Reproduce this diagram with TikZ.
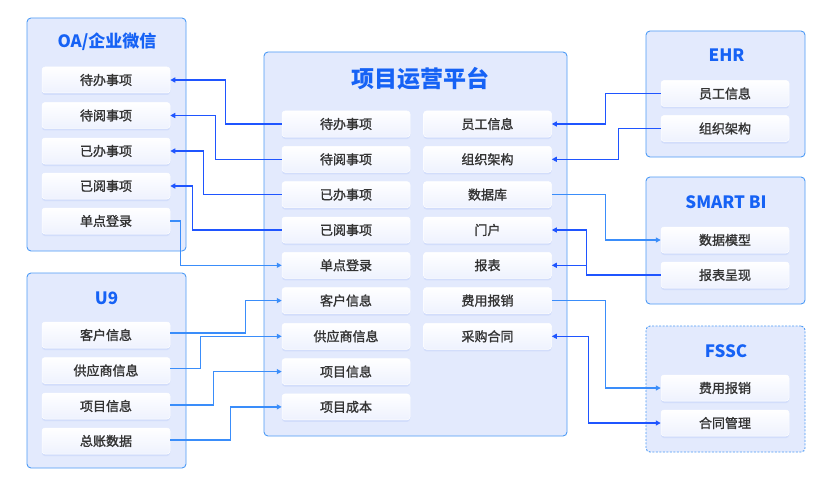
\documentclass[tikz,border=0pt]{standalone}
\usepackage{fontspec}
\setmainfont{Noto Sans CJK SC}
\newfontfamily\itemfont{Noto Sans CJK SC}[FakeBold=1.5]
\usetikzlibrary{arrows.meta,shadows}
\definecolor{boxfill}{HTML}{E3EAFD}
\definecolor{boxline}{HTML}{4D9BF6}
\definecolor{titleblue}{HTML}{1662F5}
\definecolor{itemtext}{HTML}{333333}
\definecolor{darkarr}{HTML}{1F55FF}
\definecolor{lightarr}{HTML}{3A8DFA}
\definecolor{itembot}{HTML}{EEF2FE}
\definecolor{shadowc}{HTML}{C7D5FA}
\tikzset{
  group/.style={draw=boxline, line width=0.9pt, fill=boxfill, rounded corners=4pt, inner sep=0pt},
  dgroup/.style={group, dash pattern=on 2pt off 1.5pt},
  item/.style={minimum width=128pt, minimum height=26pt, inner sep=0pt, rounded corners=3pt,
    top color=white, bottom color=itembot, draw=white, line width=0.5pt, text=itemtext,
    font=\itemfont\fontsize{13}{15}\selectfont,
    drop shadow={shadow xshift=0pt, shadow yshift=-2pt, fill=shadowc, opacity=0.6}},
  title/.style={text=titleblue, font=\bfseries\fontsize{17}{20}\selectfont},
  bigtitle/.style={text=titleblue, font=\bfseries\fontsize{23}{27}\selectfont},
  darr/.style={draw=darkarr, line width=1.2pt, -{Triangle[length=5pt,width=5pt]}},
  larr/.style={draw=lightarr, line width=1.2pt, -{Triangle[length=5pt,width=5pt]}},
  dblarr/.style={draw=darkarr, line width=1.2pt, {Triangle[length=5pt,width=5pt]}-{Triangle[length=5pt,width=5pt]}},
}
\begin{document}
\begin{tikzpicture}[x=1pt,y=-1pt]
\useasboundingbox[fill=white] (0,0) rectangle (832,492);

% groups
\node[group, minimum width=159pt, minimum height=233pt] (oa) at (106.5,134.5) {};
\node[group, minimum width=159pt, minimum height=195pt] (u9) at (106.5,370.5) {};
\node[group, minimum width=303pt, minimum height=384pt] (main) at (415.5,244) {};
\node[group, minimum width=159pt, minimum height=126pt] (ehr) at (725.5,94) {};
\node[group, minimum width=159pt, minimum height=127pt] (sbi) at (725.5,240.5) {};
\node[dgroup, minimum width=159pt, minimum height=126pt] (fssc) at (725.5,389) {};

% titles
\node[title] (toa) at (107,42) {OA/企业微信};
\node[title] (tu9) at (106.5,298) {U9};
\node[bigtitle] (tmain) at (420,79) {项目运营平台};
\node[title] (tehr) at (726.5,55) {EHR};
\node[title] (tsbi) at (726,202) {SMART BI};
\node[title] (tfssc) at (726,351) {FSSC};

% OA items
\node[item] (oa1) at (106,80) {待办事项};
\node[item] (oa2) at (106,115.5) {待阅事项};
\node[item] (oa3) at (106,151) {已办事项};
\node[item] (oa4) at (106,186) {已阅事项};
\node[item] (oa5) at (106,221) {单点登录};

% U9 items
\node[item] (u1) at (106,335) {客户信息};
\node[item] (u2) at (106,370.5) {供应商信息};
\node[item] (u3) at (106,406) {项目信息};
\node[item] (u4) at (106,441) {总账数据};

% main left items
\node[item] (m1) at (346,124) {待办事项};
\node[item] (m2) at (346,159.3) {待阅事项};
\node[item] (m3) at (346,194.6) {已办事项};
\node[item] (m4) at (346,230) {已阅事项};
\node[item] (m5) at (346,265.3) {单点登录};
\node[item] (m6) at (346,300.6) {客户信息};
\node[item] (m7) at (346,336.3) {供应商信息};
\node[item] (m8) at (346,371.6) {项目信息};
\node[item] (m9) at (346,406.9) {项目成本};

% main right items
\node[item] (r1) at (487.5,124) {员工信息};
\node[item] (r2) at (487.5,159.3) {组织架构};
\node[item] (r3) at (487.5,194.6) {数据库};
\node[item] (r4) at (487.5,230) {门户};
\node[item] (r5) at (487.5,265.3) {报表};
\node[item] (r6) at (487.5,300.6) {费用报销};
\node[item] (r7) at (487.5,336.3) {采购合同};

% EHR items
\node[item] (e1) at (725,93.5) {员工信息};
\node[item] (e2) at (725,128.5) {组织架构};
% SMART BI items
\node[item] (s1) at (725,240) {数据模型};
\node[item] (s2) at (725,275) {报表呈现};
% FSSC items
\node[item] (f1) at (725,388) {费用报销};
\node[item] (f2) at (725,423) {合同管理};

% connectors OA
\draw[darr] (m1.west) -- ++(-56,0) |- (oa1.east);
\draw[darr] (m2.west) -- ++(-66,0) |- (oa2.east);
\draw[darr] (m3.west) -- ++(-78,0) |- (oa3.east);
\draw[darr] (m4.west) -- ++(-89,0) |- (oa4.east);
\draw[larr] (oa5.east) -- ++(10,0) |- (m5.west);

% connectors U9
\draw[larr] ([yshift=2pt]u1.east) -- ++(75,0) |- (m6.west);
\draw[larr] ([yshift=2pt]u2.east) -- ++(30,0) |- (m7.west);
\draw[larr] ([yshift=1pt]u3.east) -- ++(43,0) |- (m8.west);
\draw[larr] ([yshift=1pt]u4.east) -- ++(60,0) |- (m9.west);

% connectors right
\draw[darr] (e1.west) -- ++(-55,0) |- (r1.east);
\draw[darr] (e2.west) -- ++(-42,0) |- (r2.east);
\draw[larr] (r3.east) -- ++(54,0) |- (s1.west);
\draw[darr] (s2.west) -- ++(-74,0) coordinate (j13) |- (r4.east);
\draw[darr] (j13 |- r5.east) -- (r5.east);
\draw[larr] (r6.east) -- ++(54,0) |- (f1.west);
\draw[dblarr] (f2.west) -- ++(-72,0) |- (r7.east);
\end{tikzpicture}
\end{document}
